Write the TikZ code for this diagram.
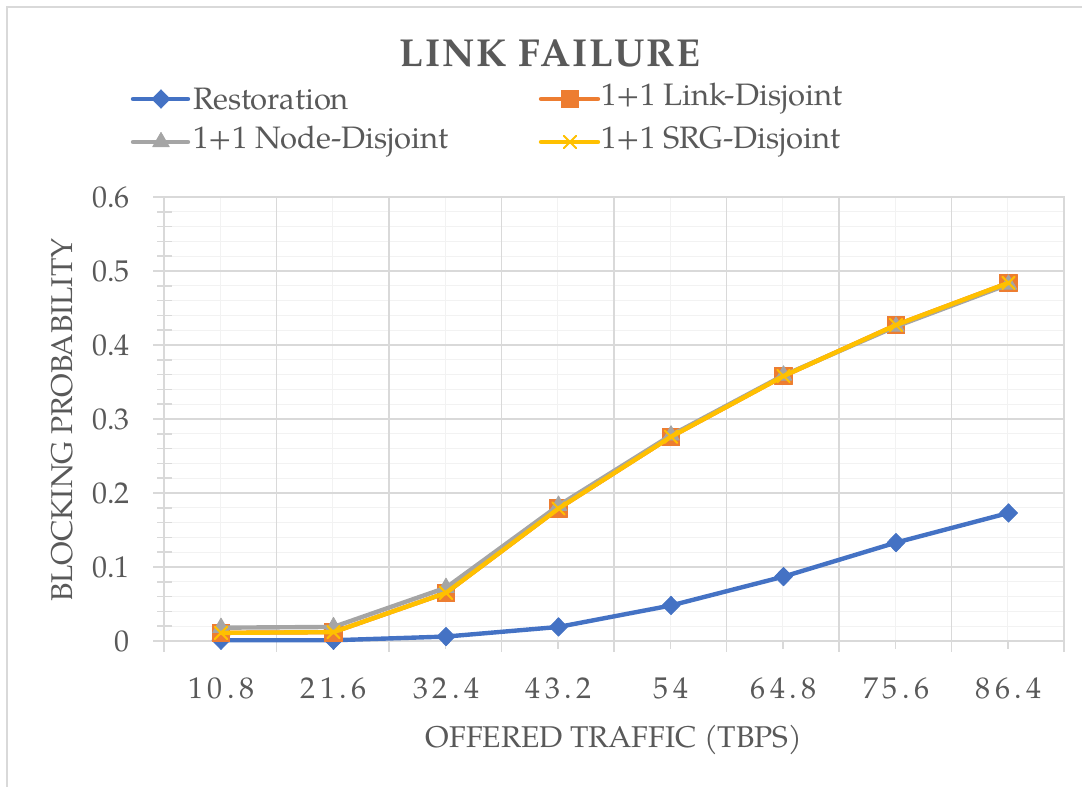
\documentclass[tikz,border=0pt]{standalone}
\usepackage{fontspec}
\setmainfont{texgyrepagella}[Extension=.otf,UprightFont=*-regular,BoldFont=*-bold,ItalicFont=*-italic,BoldItalicFont=*-bolditalic]
\usepackage{tikz}
\usetikzlibrary{plotmarks,positioning,calc}
\definecolor{chInk}{HTML}{595959}
\definecolor{chGrid}{HTML}{D9D9D9}
\definecolor{chGridLight}{HTML}{F2F2F2}
\definecolor{chBlue}{HTML}{4472C4}
\definecolor{chOrange}{HTML}{ED7D31}
\definecolor{chGray}{HTML}{A5A5A5}
\definecolor{chYellow}{HTML}{FFC000}
\tikzset{
  majorgrid/.style={draw=chGrid,line width=0.75pt},
  minorgrid/.style={draw=chGridLight,line width=0.6pt},
  ticklbl/.style={font=\fontsize{15}{18}\selectfont,text=chInk,inner sep=0pt},
  xticklbl/.style={font=\fontsize{15}{18}\selectfont\addfontfeature{LetterSpace=15},
    text=chInk,inner sep=0pt},
  axtitle/.style={font=\fontsize{15}{18}\selectfont,text=chInk,inner sep=0pt},
  charttitle/.style={font=\fontsize{19.5}{23}\selectfont\bfseries\addfontfeature{LetterSpace=5},
    text=chInk,inner sep=0pt},
  legtext/.style={font=\fontsize{15.5}{19}\selectfont,text=chInk,anchor=west,inner sep=0pt},
  series/.style={line width=2.2pt,line join=round,line cap=round},
  restline/.style={series,draw=chBlue,mark=diamond*,mark size=4.6pt,
    mark options={fill=chBlue,draw=chBlue,line width=0.4pt,xscale=1.3}},
  linkline/.style={series,draw=chOrange,mark=square*,mark size=4.4pt,
    mark options={fill=chOrange,draw=chOrange,line width=0.4pt}},
  nodeline/.style={series,draw=chGray,mark=triangle*,mark size=4.8pt,
    mark options={fill=chGray,draw=chGray,line width=0.4pt}},
  srgline/.style={series,draw=chYellow,mark=x,mark size=4.4pt,
    mark options={draw=chYellow,line width=1pt}},
}

\begin{document}
\begin{tikzpicture}[x=0.5pt,y=-0.5pt]
  \useasboundingbox (0,0) rectangle (1082,787);

  % chart frame
  \draw[majorgrid] (7,787) -- (7,7) -- (1082,7);

  % minor gridlines
  \foreach \k in {1,...,29}
    \draw[minorgrid] (164,{641-14.8*\k}) -- (1065,{641-14.8*\k});
  \foreach \k in {0,...,7}
    \draw[minorgrid] ({220.25+112.5*\k},197) -- ({220.25+112.5*\k},641);
  \foreach \k in {1,...,29}
    \draw[majorgrid] (157,{641-14.8*\k}) -- (172,{641-14.8*\k});
  \foreach \k in {0,...,7}
    \draw[majorgrid] ({220.25+112.5*\k},641) -- ({220.25+112.5*\k},649);

  % major gridlines
  \foreach \k in {0,...,6}
    \draw[majorgrid] (153,{641-74*\k}) -- (1065,{641-74*\k});
  \foreach \k in {0,...,8}
    \draw[majorgrid] ({164+112.5*\k},197) -- ({164+112.5*\k},652);

  % tick labels
  \foreach \v [count=\k from 0] in {0,0.1,0.2,0.3,0.4,0.5,0.6}
    \node[ticklbl,anchor=east] (ylab\k) at (130,{641-74*\k}) {\v};
  \foreach \c [count=\k from 0] in {10.8,21.6,32.4,43.2,54,64.8,75.6,86.4}
    \node[xticklbl] (xlab\k) at ({221+112.5*\k},688) {\c};

  % axis titles
  \node[axtitle,rotate=90] (ytitle) at (62,420) {BLOCKING PROBABILITY};
  \node[axtitle] (xtitle) at (614,740) {OFFERED TRAFFIC (TBPS)};
  \node[charttitle] (title) at (550,53) {LINK FAILURE};

  % legend
  \coordinate (legA) at (133,99);
  \coordinate (legB) at (541,99);
  \coordinate (legC) at (133,142);
  \coordinate (legD) at (541,142);
  \draw[restline,mark indices={2}] plot coordinates {(legA) ($(legA)+(28,0)$) ($(legA)+(55,0)$)};
  \draw[linkline,mark indices={2}] plot coordinates {(legB) ($(legB)+(29,0)$) ($(legB)+(57,0)$)};
  \draw[nodeline,mark indices={2}] plot coordinates {(legC) ($(legC)+(28,0)$) ($(legC)+(55,0)$)};
  \draw[srgline,mark indices={2}] plot coordinates {(legD) ($(legD)+(29,0)$) ($(legD)+(57,0)$)};
  \node[legtext] (legRest) at (193,99) {Restoration};
  \node[legtext] (legLink) at (601,99) {1+1 Link-Disjoint};
  \node[legtext] (legNode) at (193,142) {1+1 Node-Disjoint};
  \node[legtext] (legSrg) at (601,142) {1+1 SRG-Disjoint};

  % data series
  \begin{scope}[shift={(221,641)},x=56.25pt,y=370pt]
    \draw[restline] plot coordinates {(0,0.001) (1,0.001) (2,0.006) (3,0.019)
      (4,0.048) (5,0.087) (6,0.133) (7,0.173)};
    \draw[linkline] plot coordinates {(0,0.011) (1,0.012) (2,0.065) (3,0.179)
      (4,0.276) (5,0.358) (6,0.427) (7,0.484)};
    \draw[nodeline] plot coordinates {(0,0.018) (1,0.019) (2,0.072) (3,0.183)
      (4,0.278) (5,0.359) (6,0.425) (7,0.482)};
    \draw[srgline] plot coordinates {(0,0.011) (1,0.012) (2,0.065) (3,0.179)
      (4,0.276) (5,0.358) (6,0.427) (7,0.484)};
  \end{scope}
\end{tikzpicture}
\end{document}
